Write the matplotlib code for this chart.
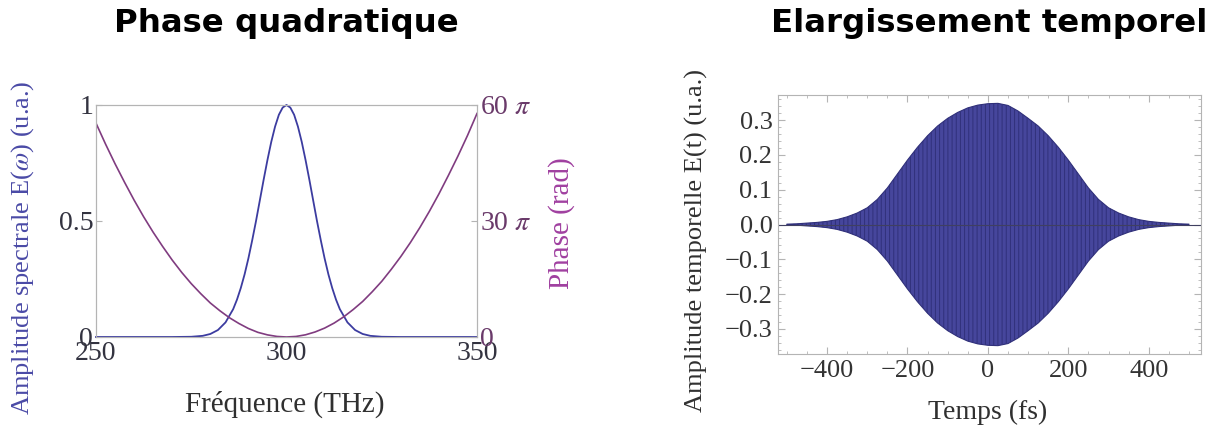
import matplotlib
matplotlib.use("Agg")
import matplotlib.pyplot as plt
from matplotlib.ticker import MultipleLocator

plt.rcParams['font.family'] = ['Liberation Serif', 'DejaVu Serif']
plt.rcParams['mathtext.fontset'] = 'stix'
plt.rcParams['hatch.color'] = '#22225a'
plt.rcParams['hatch.linewidth'] = 0.7

# spectre (THz) -> amplitude
freq_amp = [250, 260, 270, 275, 278, 280, 282, 284, 286, 287, 288, 289, 290, 291, 292, 293, 294,
            295, 296, 297, 298, 299, 300, 301, 302, 303, 304, 305, 306, 307, 308, 309, 310,
            311, 312, 313, 314, 316, 318, 320, 322, 325, 330, 340, 350]
amplitude = [0, 0, 0, 0.001, 0.005, 0.013, 0.030, 0.063, 0.120, 0.161, 0.211, 0.270, 0.339, 0.417,
             0.500, 0.589, 0.678, 0.763, 0.841, 0.907, 0.958, 0.989, 1.0, 0.989, 0.958, 0.907,
             0.841, 0.763, 0.678, 0.589, 0.500, 0.417, 0.339, 0.270, 0.211, 0.161, 0.120, 0.063,
             0.030, 0.013, 0.005, 0.001, 0, 0, 0]

# phase quadratique (en unites de pi)
freq_phase = [250, 252.5, 255, 257.5, 260, 262.5, 265, 267.5, 270, 272.5, 275, 277.5, 280,
              282.5, 285, 287.5, 290, 292.5, 295, 297.5, 300, 302.5, 305, 307.5, 310, 312.5,
              315, 317.5, 320, 322.5, 325, 327.5, 330, 332.5, 335, 337.5, 340, 342.5, 345,
              347.5, 350]
phase = [55.3, 49.9, 44.8, 40.0, 35.4, 31.1, 27.1, 23.4, 19.9, 16.7, 13.8, 11.2, 8.8,
         6.8, 5.0, 3.5, 2.2, 1.2, 0.55, 0.14, 0, 0.14, 0.57, 1.3, 2.3, 3.6,
         5.2, 7.1, 9.2, 11.7, 14.4, 17.5, 20.8, 24.4, 28.3, 32.5, 37.0, 41.8, 46.8,
         52.1, 57.8]

# enveloppe temporelle (fs)
temps = [-500, -475, -450, -425, -400, -375, -350, -325, -300, -275, -250, -225, -200, -175,
         -150, -125, -100, -75, -50, -25, 0, 25, 50, 75, 100, 125, 150, 175, 200, 225, 250,
         275, 300, 325, 350, 375, 400, 425, 450, 475, 500]
enveloppe = [0.001, 0.002, 0.004, 0.006, 0.009, 0.014, 0.022, 0.033, 0.048, 0.072, 0.105,
             0.145, 0.185, 0.222, 0.255, 0.283, 0.305, 0.322, 0.335, 0.343, 0.347, 0.348,
             0.342, 0.326, 0.305, 0.283, 0.255, 0.222, 0.185, 0.145, 0.105, 0.072, 0.048,
             0.033, 0.022, 0.014, 0.009, 0.006, 0.004, 0.002, 0.001]

blue = '#3c3ca0'
purple = '#803c80'
frame = '#b4b4b4'
W, H = 1227, 428

fig = plt.figure(figsize=(W / 100, H / 100), dpi=100)

# --- panneau gauche
ax = fig.add_axes([96 / W, 1 - 337 / H, 381 / W, 232 / H])
ax.plot(freq_amp, amplitude, color=blue, lw=1.3, clip_on=False, zorder=3)
ax.set_xlim(250, 350)
ax.set_ylim(0, 1)
ax.set_xticks([250, 300, 350])
ax.set_yticks([0, 0.5, 1])
ax.set_yticklabels(['0', '0.5', '1'])
ax.tick_params(direction='in', length=4, color=frame, labelsize=20, labelcolor='#333340', pad=2)
ax.tick_params(axis='x', length=0, pad=3)
for s in ax.spines.values():
    s.set_color(frame)

ax2 = ax.twinx()
ax2.plot(freq_phase, phase, color=purple, lw=1.2)
ax2.set_ylim(0, 60)
ax2.set_yticks([0, 30, 60])
ax2.set_yticklabels(['0', r'30 $\pi$', r'60 $\pi$'])
ax2.tick_params(direction='in', length=4, color=frame, labelsize=20, labelcolor='#6a3a6a', pad=2)
for s in ax2.spines.values():
    s.set_color(frame)

fig.text(23 / W, 1 - 248 / H, r'Amplitude spectrale E($\omega$) (u.a.)', rotation=90,
         ha='center', va='center', fontsize=19, color='#4a4aa6')
fig.text(562 / W, 1 - 223 / H, 'Phase (rad)', rotation=90,
         ha='center', va='center', fontsize=21, color='#a040a0')
fig.text(285 / W, 1 - 404 / H, 'Fréquence (THz)', ha='center', va='center',
         fontsize=21, color='#303030')

# --- panneau droit
axr = fig.add_axes([778 / W, 1 - 354 / H, 423 / W, 259 / H])
axr.fill_between(temps, [-v for v in enveloppe], enveloppe, facecolor='#46469c',
                 edgecolor='#30307a', lw=0.8, hatch='||||')
axr.axhline(0, color='#404060', lw=0.8)
axr.set_xlim(-522, 530)
axr.set_ylim(-0.372, 0.372)
axr.xaxis.set_minor_locator(MultipleLocator(50))
axr.yaxis.set_minor_locator(MultipleLocator(0.02))
axr.set_xticks([-400, -200, 0, 200, 400])
axr.set_xticklabels(['\u2212400', '\u2212200', '0', '200', '400'])
axr.set_yticks([-0.3, -0.2, -0.1, 0, 0.1, 0.2, 0.3])
axr.set_yticklabels(['\u22120.3', '\u22120.2', '\u22120.1', '0.0', '0.1', '0.2', '0.3'])
axr.tick_params(which='both', direction='in', top=True, right=True, color=frame,
                labelsize=19, labelcolor='#333333')
axr.tick_params(which='major', length=5, pad=4)
axr.tick_params(which='minor', length=2.5)
for s in axr.spines.values():
    s.set_color(frame)

fig.text(696 / W, 1 - 240 / H, 'Amplitude temporelle E(t) (u.a.)', rotation=90,
         ha='center', va='center', fontsize=19, color='#303030')
fig.text(988 / W, 1 - 412 / H, 'Temps (fs)', ha='center', va='center',
         fontsize=20, color='#303030')

# titres
fig.text(286 / W, 1 - 32 / H, 'Phase quadratique', ha='center', va='baseline',
         fontsize=23.3, fontweight='bold', family='DejaVu Sans')
fig.text(989 / W, 1 - 32 / H, 'Elargissement temporel', ha='center', va='baseline',
         fontsize=23.3, fontweight='bold', family='DejaVu Sans')

fig.savefig('out.png', dpi=100)
